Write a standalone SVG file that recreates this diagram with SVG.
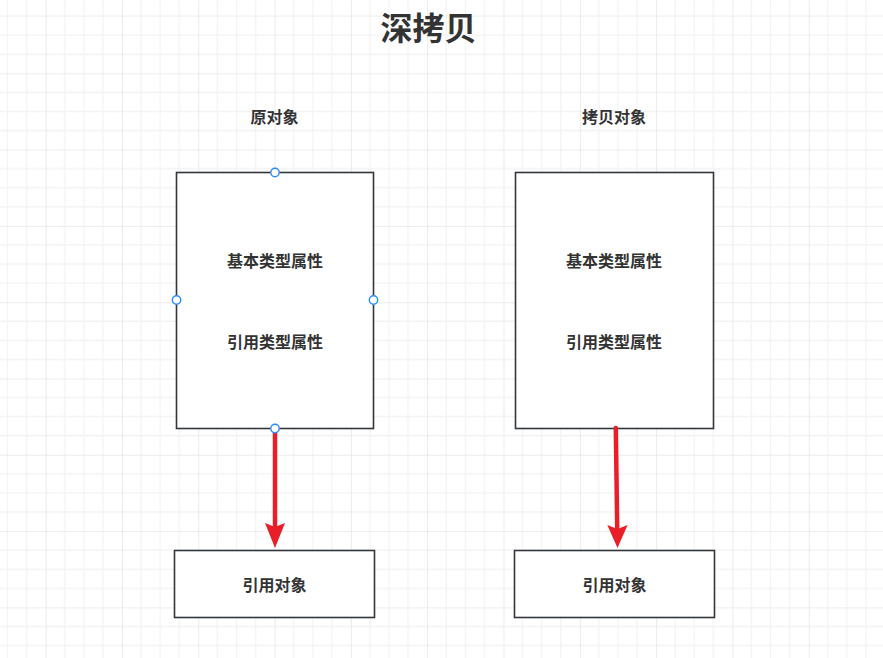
<svg xmlns="http://www.w3.org/2000/svg" width="883" height="658" viewBox="0 0 883 658">
<style>
.box{fill:#ffffff;stroke:#33363b;stroke-width:1.6}
.t{font-family:"Noto Sans CJK SC","Noto Sans",sans-serif;font-weight:bold;fill:#333333;text-anchor:middle;dominant-baseline:central}
.lbl{font-size:16px}
.title{font-size:32px}
.arrow{stroke:#e81e28;stroke-width:4.5;fill:none;stroke-linecap:round}
.head{fill:#e81e28}
.port{fill:#ffffff;stroke:#2b8cff;stroke-width:1.4}
</style>
<defs>
<pattern id="grid" patternUnits="userSpaceOnUse" x="45.7" y="73.3" width="76.3" height="76.3">
<g stroke="#f3f3f3" stroke-width="1.3">
<line x1="19.075" y1="0" x2="19.075" y2="76.3"/>
<line x1="38.15" y1="0" x2="38.15" y2="76.3"/>
<line x1="57.225" y1="0" x2="57.225" y2="76.3"/>
<line x1="0" y1="19.075" x2="76.3" y2="19.075"/>
<line x1="0" y1="38.15" x2="76.3" y2="38.15"/>
<line x1="0" y1="57.225" x2="76.3" y2="57.225"/>
</g>
<g stroke="#e6e6e6" stroke-width="1.6">
<line x1="0" y1="0" x2="0" y2="76.3"/>
<line x1="0" y1="0" x2="76.3" y2="0"/>
</g>
</pattern>
</defs>
<rect x="0" y="0" width="883" height="658" fill="#ffffff"/>
<rect x="0" y="0" width="883" height="658" fill="url(#grid)"/>

<g id="title"><text class="t title" x="428.5" y="26">深拷贝</text></g>
<g id="label-original"><text class="t lbl" x="274.5" y="115.5">原对象</text></g>
<g id="label-copy"><text class="t lbl" x="614" y="115.5">拷贝对象</text></g>

<g id="node-original">
<rect class="box" x="176.5" y="172.5" width="197" height="256"/>
<text class="t lbl" x="275" y="259.5">基本类型属性</text>
<text class="t lbl" x="275" y="340.5">引用类型属性</text>
</g>
<g id="node-copy">
<rect class="box" x="515.5" y="172.5" width="198" height="256"/>
<text class="t lbl" x="614" y="259.5">基本类型属性</text>
<text class="t lbl" x="614" y="340.5">引用类型属性</text>
</g>
<g id="node-ref-left">
<rect class="box" x="174.5" y="550.5" width="200" height="67"/>
<text class="t lbl" x="274.5" y="583.5">引用对象</text>
</g>
<g id="node-ref-right">
<rect class="box" x="514.5" y="550.5" width="200" height="67"/>
<text class="t lbl" x="614.5" y="583.5">引用对象</text>
</g>

<g id="connectors">
<line class="arrow" x1="275" y1="429" x2="275" y2="528"/>
<path class="head" d="M275,548 L265,523 L275,527 L285,523 Z"/>
<line class="arrow" x1="615.8" y1="428" x2="617.2" y2="528"/>
<path class="head" d="M617.5,548 L607.3,525 L617.4,529 L627.6,525 Z"/>
</g>

<g id="ports">
<circle class="port" cx="275" cy="172.5" r="4.2"/>
<circle class="port" cx="176.5" cy="300" r="4.2"/>
<circle class="port" cx="373.5" cy="300" r="4.2"/>
<circle class="port" cx="275" cy="428.5" r="4.2"/>
</g>
</svg>
